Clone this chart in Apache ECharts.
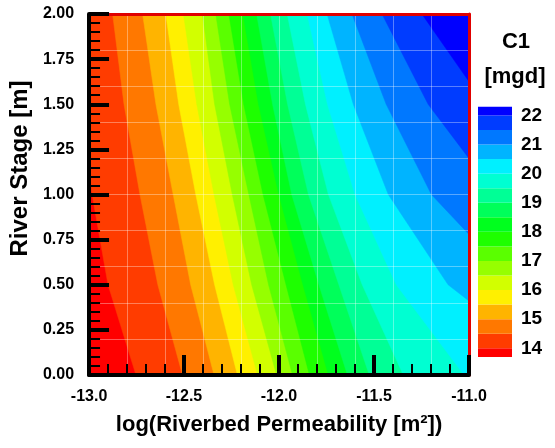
<!DOCTYPE html>
<html>
<head>
<meta charset="utf-8">
<script src="https://cdn.jsdelivr.net/npm/echarts@6/dist/echarts.min.js"></script>
<style>
html,body{margin:0;padding:0;background:#fff;}
#chart{width:555px;height:448px;}
</style>
</head>
<body>
<div id="chart"></div>
<script>
// Contour levels of C1 [mgd]
const LEVELS = [14, 14.5, 15, 15.5, 16, 16.5, 17, 17.5, 18, 18.5, 19, 19.5, 20, 20.5, 21, 21.5, 22];
// River stage values at which each contour line position was read
const STAGE = [0, 0.5, 1.0, 1.5, 2.0];
// log(permeability) of each contour line at the STAGE values (one row per level)
const contourX = [
  [-12.753, -12.900, -12.984, -13.042, -13.094],
  [-12.508, -12.638, -12.732, -12.816, -12.876],
  [-12.342, -12.465, -12.557, -12.648, -12.718],
  [-12.219, -12.339, -12.438, -12.528, -12.596],
  [-12.113, -12.241, -12.342, -12.433, -12.503],
  [-12.013, -12.144, -12.246, -12.339, -12.403],
  [-11.929, -12.055, -12.159, -12.260, -12.333],
  [-11.840, -11.963, -12.084, -12.186, -12.264],
  [-11.740, -11.874, -12.001, -12.108, -12.190],
  [-11.640, -11.790, -11.933, -12.034, -12.118],
  [-11.525, -11.685, -11.845, -11.955, -12.045],
  [-11.346, -11.562, -11.740, -11.861, -11.957],
  [-11.026, -11.383, -11.600, -11.745, -11.852],
  [-10.500, -11.110, -11.425, -11.609, -11.747],
  [-10.300, -10.750, -11.198, -11.436, -11.616],
  [-10.100, -10.500, -10.857, -11.215, -11.458],
  [-10.000, -10.300, -10.600, -10.917, -11.248]
];
// Colour of each band (below first level ... above last level)
const BAND_COLORS = ["#FF0000","#FF3C00","#FF7800","#FFB400","#FFF000","#D2FF00","#96FF00","#5AFF00","#1EFF00",
  "#00FF1E","#00FF5A","#00FF96","#00FFD2","#00F0FF","#00B4FF","#0078FF","#003CFF","#0000FF"];
const LEGEND_LABELS = [14, 15, 16, 17, 18, 19, 20, 21, 22];
const LEGEND_MIN = 13.7, LEGEND_MAX = 22.3;

const FONT = "'Liberation Sans', Arial, Helvetica, sans-serif";

const chart = echarts.init(document.getElementById('chart'), null, {renderer: 'canvas'});

const fillData = LEVELS.map((l, i) => [i]);
const legendData = [];
for (let i = 0; i <= LEVELS.length; i++) {
  const lo = i === 0 ? LEGEND_MIN : LEVELS[i - 1];
  const hi = i === LEVELS.length ? LEGEND_MAX : LEVELS[i];
  legendData.push([0, lo, hi, i]);
}

const option = {
  backgroundColor: '#ffffff',
  animation: false,
  textStyle: {fontFamily: FONT},
  grid: [
    {left: 88, top: 14, width: 381, height: 361, show: true, backgroundColor: BAND_COLORS[0], borderWidth: 0, z: 0},
    {left: 478, top: 106.7, width: 34, height: 250.3, show: false}
  ],
  xAxis: [
    {
      type: 'value', gridIndex: 0, position: 'bottom', min: -13, max: -11, interval: 0.5, z: 6,
      axisLine: {show: true, onZero: false, lineStyle: {color: '#000', width: 4}},
      axisTick: {show: true, inside: true, length: 20, lineStyle: {color: '#000', width: 4}},
      minorTick: {show: true, splitNumber: 5, length: 11, lineStyle: {color: '#000', width: 2}},
      splitLine: {show: false},
      axisLabel: {margin: 14, color: '#000', fontSize: 16, fontWeight: 'bold', fontFamily: FONT,
        formatter: v => v.toFixed(1)},
      name: 'log(Riverbed Permeability [m²])', nameLocation: 'middle', nameGap: 39,
      nameTextStyle: {color: '#000', fontSize: 22, fontWeight: 'bold', fontFamily: FONT}
    },
    {
      type: 'value', gridIndex: 0, position: 'top', min: -13, max: -11, interval: 0.2, z: 5,
      axisLine: {show: true, onZero: false, lineStyle: {color: '#E00000', width: 3}},
      axisTick: {show: false}, axisLabel: {show: false},
      splitLine: {show: true, lineStyle: {color: 'rgba(255,255,255,0.35)', width: 1}}
    },
    {type: 'value', gridIndex: 1, min: 0, max: 1, show: false}
  ],
  yAxis: [
    {
      type: 'value', gridIndex: 0, position: 'left', min: 0, max: 2, interval: 0.25, z: 6,
      axisLine: {show: true, onZero: false, lineStyle: {color: '#000', width: 4}},
      axisTick: {show: true, inside: true, length: 20, lineStyle: {color: '#000', width: 4}},
      minorTick: {show: true, splitNumber: 5, length: 11, lineStyle: {color: '#000', width: 2}},
      splitLine: {show: false},
      axisLabel: {margin: 15, color: '#000', fontSize: 16, fontWeight: 'bold', fontFamily: FONT,
        formatter: v => v.toFixed(2)},
      name: 'River Stage [m]', nameLocation: 'middle', nameGap: 56,
      nameTextStyle: {color: '#000', fontSize: 24, fontWeight: 'bold', fontFamily: FONT, padding: [0, 0, 0, 52]}
    },
    {
      type: 'value', gridIndex: 0, position: 'right', min: 0, max: 2, interval: 0.2, z: 5,
      axisLine: {show: true, onZero: false, lineStyle: {color: '#E00000', width: 3}},
      axisTick: {show: false}, axisLabel: {show: false},
      splitLine: {show: true, lineStyle: {color: 'rgba(255,255,255,0.35)', width: 1}}
    },
    {
      type: 'value', gridIndex: 1, position: 'right', min: LEGEND_MIN, max: LEGEND_MAX,
      axisLine: {show: false}, axisTick: {show: false}, splitLine: {show: false},
      axisLabel: {show: true, customValues: LEGEND_LABELS, margin: 9, color: '#000', fontSize: 19,
        fontWeight: 'bold', fontFamily: FONT, padding: [6, 0, 0, 0], formatter: v => String(Math.round(v))}
    }
  ],
  graphic: [
    {type: 'text', x: 516, y: 42, z: 10, style: {text: 'C1', textAlign: 'center', textVerticalAlign: 'middle',
      fill: '#000', font: "bold 22px " + FONT}},
    {type: 'text', x: 515, y: 77, z: 10, style: {text: '[mgd]', textAlign: 'center', textVerticalAlign: 'middle',
      fill: '#000', font: "bold 22px " + FONT}}
  ],
  series: [
    {
      type: 'custom', coordinateSystem: 'cartesian2d', xAxisIndex: 0, yAxisIndex: 0, z: 3, clip: true,
      data: fillData,
      renderItem: function (params, api) {
        const i = api.value(0);
        const pts = STAGE.map((y, k) => api.coord([contourX[i][k], y]));
        pts.push(api.coord([-9, STAGE[STAGE.length - 1]]));
        pts.push(api.coord([-9, STAGE[0]]));
        const cs = params.coordSys;
        return {
          type: 'polygon', z2: i,
          shape: {points: pts},
          style: {fill: BAND_COLORS[i + 1], stroke: BAND_COLORS[i + 1], lineWidth: 0.5},
          clipPath: {type: 'rect', shape: {x: cs.x, y: cs.y, width: cs.width, height: cs.height}}
        };
      }
    },
    {
      type: 'custom', coordinateSystem: 'cartesian2d', xAxisIndex: 2, yAxisIndex: 2, z: 3,
      data: legendData,
      renderItem: function (params, api) {
        const p0 = api.coord([0, api.value(1)]);
        const p1 = api.coord([1, api.value(2)]);
        return {
          type: 'rect',
          shape: {x: p0[0], y: p1[1], width: p1[0] - p0[0], height: p0[1] - p1[1]},
          style: {fill: BAND_COLORS[api.value(3)]}
        };
      }
    }
  ]
};
chart.setOption(option);
</script>
</body>
</html>
